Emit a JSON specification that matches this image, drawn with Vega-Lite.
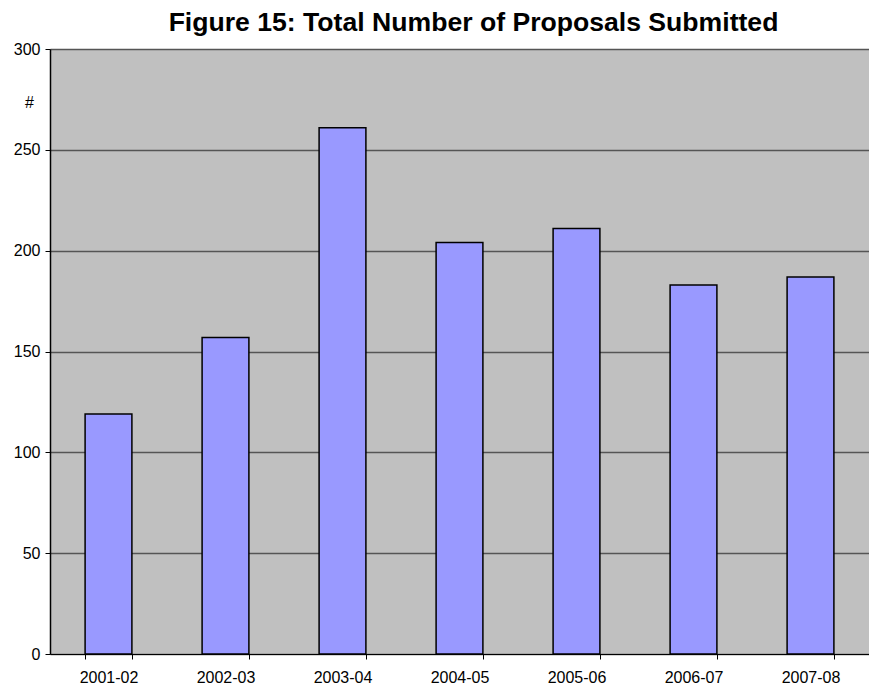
{
  "$schema": "https://vega.github.io/schema/vega-lite/v6.json",
  "autosize": "none",
  "width": 819,
  "height": 605,
  "padding": {"left": 50, "top": 49, "right": 0, "bottom": 34},
  "background": "white",
  "title": {
    "text": "Figure 15: Total Number of Proposals Submitted",
    "font": "Liberation Sans",
    "fontSize": 26.6,
    "fontWeight": "bold",
    "color": "black",
    "anchor": "middle",
    "dx": 14,
    "dy": 23,
    "baseline": "alphabetic",
    "offset": 6
  },
  "config": {
    "view": {"fill": "#C0C0C0", "stroke": null},
    "axis": {"labelFont": "Liberation Sans", "titleFont": "Liberation Sans", "labelColor": "black", "titleColor": "black"}
  },
  "data": {
    "values": [
      {"year": "2001-02", "proposals": 119},
      {"year": "2002-03", "proposals": 157},
      {"year": "2003-04", "proposals": 261},
      {"year": "2004-05", "proposals": 204},
      {"year": "2005-06", "proposals": 211},
      {"year": "2006-07", "proposals": 183},
      {"year": "2007-08", "proposals": 187}
    ]
  },
  "mark": {"type": "bar", "fill": "#9999FF", "stroke": "black", "strokeWidth": 1.5},
  "encoding": {
    "x": {
      "field": "year",
      "type": "ordinal",
      "sort": null,
      "scale": {"paddingInner": 0.6, "paddingOuter": 0.3},
      "axis": {
        "title": null,
        "labelAngle": 0,
        "labelFontSize": 16,
        "labelPadding": 10,
        "tickBand": "extent",
        "ticks": true,
        "tickSize": 5,
        "tickColor": "black",
        "domainColor": "black",
        "domainWidth": 1,
        "grid": false
      }
    },
    "y": {
      "field": "proposals",
      "type": "quantitative",
      "scale": {"domain": [0, 300], "nice": false},
      "axis": {
        "title": "#",
        "titleAngle": 0,
        "titleFontSize": 16,
        "titleFontWeight": "normal",
        "titleAlign": "center",
        "titleBaseline": "middle",
        "titleX": -21,
        "titleY": 53,
        "values": [0, 50, 100, 150, 200, 250, 300],
        "labelFontSize": 16,
        "labelPadding": 5,
        "tickSize": 5,
        "tickColor": "black",
        "domainColor": "black",
        "domainWidth": 1.5,
        "grid": true,
        "gridColor": "#555555",
        "gridWidth": 1.3,
        "gridOpacity": 1
      }
    }
  }
}
